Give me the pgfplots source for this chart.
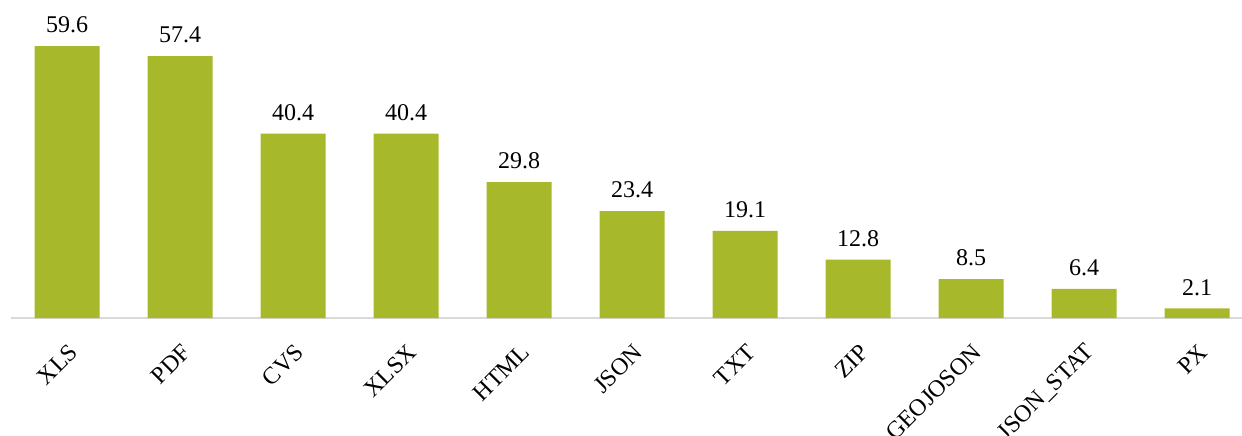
\documentclass[border=0pt]{standalone}
\usepackage{pgfplots}
\pgfplotsset{compat=1.18}
\usepackage{fontspec}
\setmainfont{Liberation Serif}
\definecolor{barg}{RGB}{167,185,43}
\definecolor{axg}{RGB}{217,217,217}
\begin{document}
\begin{tikzpicture}
\begin{axis}[
  x=56.5pt, y=2.282pt,
  xmin=-0.5, xmax=10.5, ymin=0, ymax=62,
  axis y line=none,
  axis x line*=bottom,
  x axis line style={axg, line width=1pt, -},
  xtick=data,
  xticklabels={XLS,PDF,CVS,XLSX,HTML,JSON,TXT,ZIP,GEOJOSON,JSON\_STAT,PX},
  xtick style={draw=none},
  xticklabel style={rotate=45, anchor=east, font=\fontsize{12}{14}\selectfont, xshift=-2pt, yshift=-10pt},
  ybar, bar width=32.5pt,
  nodes near coords,
  nodes near coords style={font=\fontsize{12}{14}\selectfont, /pgf/number format/fixed, /pgf/number format/precision=1, /pgf/number format/fixed zerofill, /pgf/number format/assume math mode=true, yshift=3pt},
  clip=false,
]
\addplot[fill=barg, draw=none] coordinates {(0,59.6) (1,57.4) (2,40.4) (3,40.4) (4,29.8) (5,23.4) (6,19.1) (7,12.8) (8,8.5) (9,6.4) (10,2.1)};
\coordinate (bl) at (axis cs:-0.593,-25.85);
\coordinate (tr) at (axis cs:10.398,69.68);
\end{axis}
\pgfresetboundingbox
\path (bl) rectangle (tr);
\end{tikzpicture}
\end{document}
